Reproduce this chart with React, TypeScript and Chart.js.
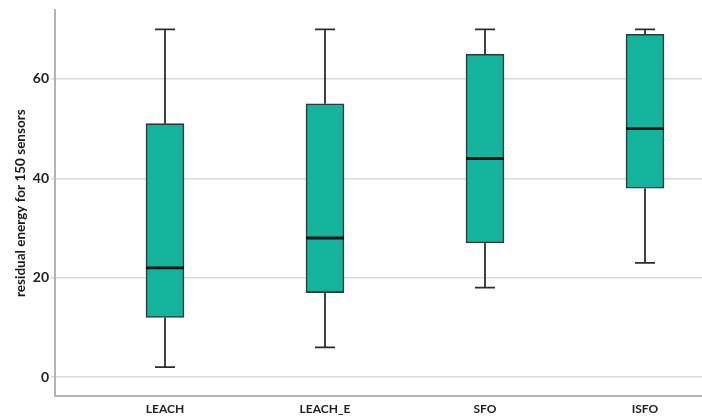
import React, { useEffect, useRef } from "react";
import { Chart, registerables } from "chart.js";

Chart.register(...registerables);

const categories = ["LEACH", "LEACH_E", "SFO", "ISFO"];
const whiskerLow = [2, 6, 18, 23];
const quartile1 = [12, 17, 27, 38];
const medians = [22, 28, 44, 50];
const quartile3 = [51, 55, 65, 69];
const whiskerHigh = [70, 70, 70, 70];
const yTickValues = [0, 20, 40, 60];

const BOX_WIDTH = 38;
const CAP_WIDTH = 20;

const boxPlugin = {
  id: "boxWhiskers",
  afterDatasetsDraw(chart: any) {
    const { ctx, scales } = chart;
    const xs = scales.x;
    const ys = scales.y;
    ctx.save();
    categories.forEach((_, i) => {
      const x = xs.getPixelForValue(i + 1);
      const yLo = ys.getPixelForValue(whiskerLow[i]);
      const yQ1 = ys.getPixelForValue(quartile1[i]);
      const yMed = ys.getPixelForValue(medians[i]);
      const yQ3 = ys.getPixelForValue(quartile3[i]);
      const yHi = ys.getPixelForValue(whiskerHigh[i]);
      ctx.strokeStyle = "#2a2e2e";
      ctx.lineWidth = 1.8;
      ctx.beginPath();
      ctx.moveTo(x, yHi);
      ctx.lineTo(x, yQ3);
      ctx.moveTo(x, yQ1);
      ctx.lineTo(x, yLo);
      ctx.moveTo(x - CAP_WIDTH / 2, yHi);
      ctx.lineTo(x + CAP_WIDTH / 2, yHi);
      ctx.moveTo(x - CAP_WIDTH / 2, yLo);
      ctx.lineTo(x + CAP_WIDTH / 2, yLo);
      ctx.stroke();
      ctx.strokeStyle = "#111";
      ctx.lineWidth = 2.8;
      ctx.beginPath();
      ctx.moveTo(x - BOX_WIDTH / 2, yMed);
      ctx.lineTo(x + BOX_WIDTH / 2, yMed);
      ctx.stroke();
    });
    ctx.restore();
  },
};

export default function App() {
  const ref = useRef<HTMLCanvasElement>(null);
  useEffect(() => {
    document.body.style.margin = "0";
    const canvas = ref.current!;
    const chart = new Chart(canvas, {
      type: "bar",
      data: {
        datasets: [
          {
            data: categories.map((_, i) => ({ x: i + 1, y: [quartile1[i], quartile3[i]] })) as any,
            backgroundColor: "#14b39b",
            borderColor: "#2a3b39",
            borderWidth: 1.6,
            borderSkipped: false,
            barThickness: BOX_WIDTH,
          },
        ],
      },
      options: {
        responsive: false,
        animation: false,
        devicePixelRatio: 1,
        layout: { padding: { top: 8, right: 0, left: 0, bottom: 0 } },
        plugins: { legend: { display: false }, tooltip: { enabled: false } },
        scales: {
          x: {
            type: "linear",
            offset: false,
            min: 0.3125,
            max: 4.35625,
            grid: { display: false, drawTicks: false, offset: false },
            border: { color: "#b4b4b4", width: 2 },
            ticks: {
              stepSize: 1,
              includeBounds: false,
              autoSkip: false,
              maxRotation: 0,
              padding: 6,
              color: "#222",
              font: { family: "Lato", weight: "bold", size: 12 },
              callback: (v: any) => {
                const idx = Number(v) - 1;
                return Number.isInteger(Number(v)) && categories[idx] ? categories[idx] : "";
              },
            },
            afterFit: (s: any) => {
              s.height = 23;
            },
          },
          y: {
            type: "linear",
            min: -3.8,
            max: 73.8,
            afterBuildTicks: (s: any) => {
              s.ticks = yTickValues.map((v) => ({ value: v }));
            },
            grid: { color: "#dadada", lineWidth: 1.5, tickLength: 4 },
            border: { color: "#b4b4b4", width: 2 },
            ticks: {
              padding: 2,
              color: "#222",
              font: { family: "Lato", weight: "bold", size: 14 },
            },
            title: {
              display: true,
              text: "residual energy for 150 sensors",
              color: "#1a1a1a",
              font: { family: "Lato", weight: "bold", size: 13.5 },
              padding: { top: 13, bottom: 0 },
            },
            afterFit: (s: any) => {
              s.width = 55;
            },
          },
        },
      },
      plugins: [boxPlugin],
    });
    return () => chart.destroy();
  }, []);
  return (
    <div style={{ position: "absolute", left: 0, top: 0, width: 702, height: 419 }}>
      <canvas ref={ref} width={702} height={419} style={{ display: "block" }} />
    </div>
  );
}
